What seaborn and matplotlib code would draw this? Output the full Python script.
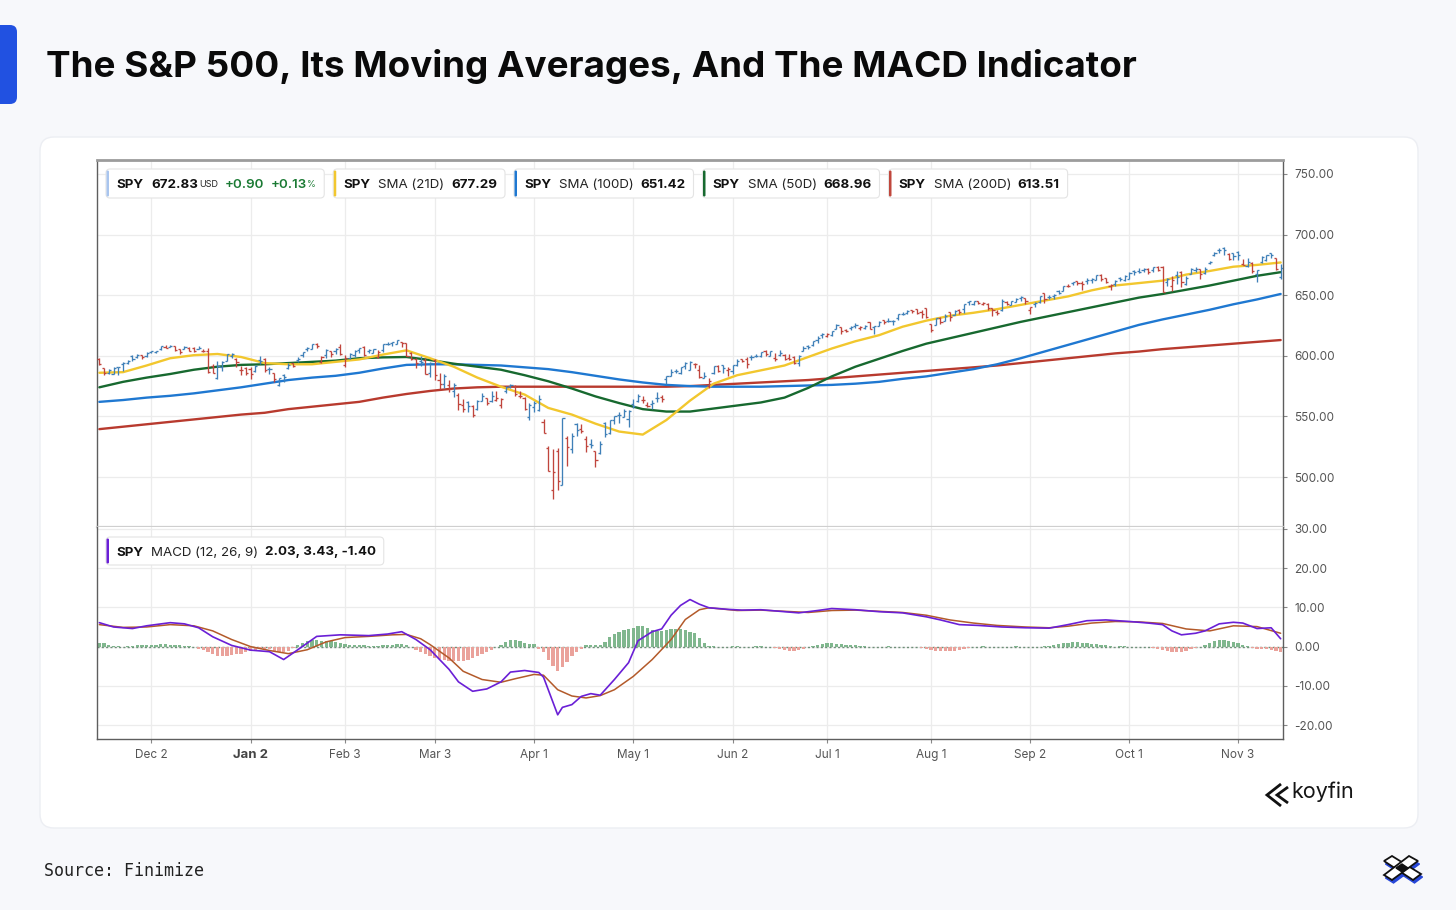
import matplotlib
matplotlib.use("Agg")
import matplotlib.pyplot as plt
from matplotlib.patches import FancyBboxPatch, Polygon
import seaborn as sns
import numpy as np
import pandas as pd

# ---------------- data ----------------
TITLE = "The S&P 500, Its Moving Averages, And The MACD Indicator"
prev_close = 597.2
opens = [597.3,589.7,586.2,584.7,590.4,593.4,593.7,599.5,598.8,600.5,599.7,
         602.9,603.4,605.6,607.6,607.4,607.7,605.4,605.8,606.6,606.4,606.0,604.2,603.9,591.4,581.8,590.9,596.1,599.5,597.5,587.9,589.9,
         589.4,587.5,596.3,597.4,588.7,585.9,575.8,584.4,590.3,594.2,596.9,600.7,605.9,605.8,609.8,594.8,600.6,603.7,603.9,607.5,
         592.7,597.8,600.6,605.0,606.9,604.0,602.6,599.2,604.5,609.9,610.9,610.1,611.5,610.2,602.0,597.2,595.9,596.8,585.6,
         596.2,579.7,576.7,575.5,570.9,567.6,559.4,562.2,558.5,556.1,562.8,564.8,562.8,563.3,559.3,570.8,575.3,575.2,567.2,565.5,549.8,
         557.5,555.1,545.1,523.7,489.2,521.4,493.4,532.2,523.0,544.1,539.7,531.7,527.6,521.2,520.0,544.5,535.9,547.1,551.4,549.6,547.6,
         560.4,563.0,563.4,559.0,560.6,565.0,566.3,581.0,583.3,587.8,585.6,591.3,588.1,593.1,588.4,582.0,575.0,586.1,591.3,592.3,588.6,
         587.8,592.3,597.0,597.6,598.7,600.2,600.2,604.2,600.0,598.5,600.9,600.4,598.2,599.0,594.3,604.3,607.9,608.6,612.9,617.4,
         616.4,617.2,622.5,623.4,621.4,622.8,624.2,622.7,623.2,627.5,623.7,624.4,629.3,628.8,629.1,631.6,634.6,635.1,637.5,638.4,636.5,639.5,
         626.3,625.7,631.3,629.1,636.0,634.0,637.5,638.3,644.7,642.8,645.5,642.9,643.1,639.4,636.3,637.8,644.8,642.1,644.6,647.3,647.5,
         637.5,642.7,644.3,651.5,648.6,649.1,653.6,653.6,657.6,659.9,662.1,660.0,661.6,662.3,662.9,666.7,664.5,657.8,659.5,664.4,662.9,
         663.2,670.3,669.9,671.1,671.9,670.4,673.5,672.9,660.7,657.2,666.8,668.9,659.5,667.3,670.6,672.0,668.1,676.5,682.9,687.1,688.7,683.9,685.0,
         686.0,676.1,674.4,676.5,667.9,677.8,679.0,684.8,680.5,665.4]
highs = [597.8,590.2,589.5,591.0,590.8,595.1,596.2,600.9,601.3,600.9,603.3,
         604.3,604.2,607.9,608.5,609.1,607.9,605.9,608.4,607.2,607.2,607.8,605.2,606.4,593.0,595.8,595.3,601.3,602.5,597.8,591.7,590.6,
         591.1,592.6,599.7,597.8,590.6,585.9,581.8,585.0,593.9,594.3,599.4,603.1,607.4,610.0,610.8,599.7,605.4,604.1,606.5,610.0,
         600.3,602.3,604.4,606.4,608.1,605.5,605.9,604.6,609.9,611.0,611.5,613.2,611.7,610.3,603.0,597.9,599.6,598.0,594.7,
         597.3,585.4,584.9,580.2,577.4,569.5,564.0,563.1,559.1,563.8,569.7,565.0,570.9,570.6,564.9,575.2,576.4,576.3,570.9,566.3,560.7,
         562.9,567.4,548.0,525.9,523.2,524.0,548.6,533.5,536.4,544.3,543.4,533.8,531.2,521.4,529.3,545.4,547.4,550.7,553.3,555.8,555.5,
         564.2,568.1,566.6,562.2,563.6,570.1,567.6,583.0,589.1,589.0,591.0,594.5,595.5,594.0,592.6,586.6,581.8,591.3,592.8,592.6,591.0,
         592.8,597.1,597.6,599.0,600.8,601.3,603.4,605.1,604.0,601.9,604.5,601.8,601.5,599.6,600.4,607.9,608.6,612.3,616.4,619.2,
         618.8,620.5,626.3,624.0,622.1,624.7,626.9,624.9,625.2,627.9,624.7,628.4,629.5,631.5,629.2,634.2,636.0,637.6,638.0,638.7,637.7,639.8,
         626.3,631.3,631.8,634.2,636.2,637.7,638.9,642.9,645.3,645.2,645.6,644.0,643.8,639.7,637.6,646.5,645.5,645.3,647.4,649.5,647.8,
         640.5,644.2,649.2,652.2,649.8,650.9,654.6,658.0,659.1,661.0,662.1,661.8,664.3,664.6,667.0,667.3,664.6,659.5,662.4,665.3,666.7,
         669.4,670.5,672.7,672.5,672.3,673.2,673.9,673.9,664.6,665.8,670.2,669.9,665.8,672.2,672.9,672.0,673.1,678.0,685.5,688.9,689.7,685.1,685.1,
         686.1,679.9,680.9,677.4,671.1,682.2,683.5,685.0,680.9,675.7]
lows = [592.6,583.9,585.3,584.6,583.9,587.5,593.1,595.5,598.1,597.4,599.4,
        602.0,602.3,604.8,606.3,607.0,604.1,601.2,605.5,604.3,602.8,605.2,602.9,585.9,585.9,580.9,587.7,595.5,598.1,590.8,584.4,584.4,
        580.5,586.4,593.6,586.8,585.2,578.6,575.4,578.4,589.2,590.9,595.2,598.7,604.3,605.5,606.8,594.1,597.8,599.2,601.6,600.9,
        590.5,597.3,599.2,602.6,600.1,602.7,602.4,598.5,603.2,609.1,608.4,609.6,607.0,599.5,596.5,589.6,591.9,584.7,582.4,
        579.9,572.3,573.1,570.1,565.6,555.6,553.6,553.4,549.7,555.0,562.4,559.1,561.6,562.6,557.2,569.7,573.7,567.2,565.4,555.1,546.9,
        553.7,554.8,536.7,505.1,481.8,489.0,493.0,509.0,520.1,533.7,536.5,520.3,523.9,508.5,519.0,533.0,535.6,543.4,544.6,549.4,541.5,
        557.0,561.6,561.3,557.4,556.0,561.6,561.8,577.0,583.0,585.5,585.1,589.3,588.0,589.7,581.8,581.4,573.8,584.8,586.7,585.4,583.2,
        585.1,591.9,595.0,590.0,596.8,598.9,599.2,599.7,599.9,595.5,600.2,596.3,596.5,593.2,591.9,604.0,605.5,608.3,610.8,615.0,
        615.4,616.6,622.4,617.9,619.5,620.9,623.0,621.5,621.8,622.0,618.0,624.2,626.5,628.3,625.6,629.7,633.7,634.8,635.5,634.3,631.5,630.8,
        619.3,625.1,626.0,628.7,628.9,633.6,634.5,635.6,641.9,642.0,642.8,642.2,638.2,632.9,633.7,637.3,642.3,641.7,644.4,645.3,643.1,
        634.9,640.6,643.5,643.3,647.2,647.2,650.6,653.5,656.9,658.5,658.8,654.7,659.6,660.4,662.6,661.9,659.7,654.4,657.9,661.9,661.6,
        663.1,666.8,668.2,669.1,667.6,669.4,669.8,652.8,657.8,653.2,658.9,657.1,658.1,667.3,669.0,663.6,667.2,675.5,682.1,684.8,682.9,679.2,679.2,
        679.1,674.6,673.2,668.4,661.2,676.7,678.5,680.9,670.5,663.3]
closes = [593.4,585.8,588.2,590.3,590.5,593.7,595.5,597.5,600.6,598.8,602.6,
          603.6,603.9,607.7,606.7,607.8,604.7,602.8,607.5,604.3,604.2,606.8,604.3,586.3,586.1,591.2,594.7,601.3,601.3,595.0,588.2,586.1,
          584.6,591.9,595.4,588.6,589.5,580.5,581.4,582.2,592.8,591.6,597.6,603.1,606.4,609.8,608.0,599.4,605.0,601.8,605.8,601.8,
          597.8,601.8,604.2,606.3,600.8,604.9,605.3,603.4,609.7,609.7,611.5,612.9,610.4,600.0,597.2,594.2,594.5,585.0,594.2,
          583.8,576.9,583.1,572.7,575.9,560.6,555.9,558.9,551.4,562.8,567.2,561.0,567.1,565.5,564.0,574.1,575.5,568.6,567.1,555.7,559.4,
          561.0,564.5,536.7,505.3,504.4,496.5,548.6,524.6,533.9,539.1,537.6,525.7,526.4,513.9,527.3,535.4,546.7,550.6,550.9,554.3,554.5,
          558.5,566.8,563.5,558.8,561.2,565.1,564.3,583.0,586.8,587.6,590.5,594.2,594.9,592.9,582.9,583.1,579.1,591.2,587.2,590.1,589.4,
          592.7,596.1,595.9,593.0,599.1,599.7,603.1,601.4,603.8,597.0,602.7,597.5,597.4,594.3,600.2,606.8,607.1,611.9,614.9,617.9,
          617.7,620.5,625.3,620.7,620.3,624.1,625.8,623.6,624.8,622.1,624.2,628.0,627.6,628.8,628.9,634.2,634.4,637.1,636.9,635.3,634.5,632.1,
          621.7,631.2,628.0,632.8,632.3,637.2,635.9,642.7,644.9,645.0,643.4,643.3,639.8,638.1,635.6,645.3,642.5,645.2,646.6,648.9,645.1,
          640.3,643.7,649.1,647.2,648.8,650.3,652.2,657.6,657.4,660.9,660.0,659.2,662.3,663.7,666.8,663.2,661.1,658.1,661.8,663.7,666.2,
          668.5,669.2,669.2,671.6,669.1,673.1,671.2,653.0,663.0,662.2,665.2,660.6,664.4,671.3,671.3,667.8,671.8,677.3,685.2,687.1,687.4,679.8,682.1,
          683.3,675.2,677.6,670.3,671.0,681.4,683.0,683.4,672.0,672.8]

sma_idx = list(range(0, 251, 5))
sma21 = [586, 586.5, 592, 598, 600.5, 601.5, 599, 594, 593, 593, 595, 597, 601, 604.5, 598, 591, 582,
         574.5, 568, 557, 551.5, 544, 537.5, 535, 547, 563, 577, 584, 588, 592, 599, 606, 612, 617, 624,
         629, 633, 635.5, 638.5, 642, 645.5, 649, 654, 658, 660, 662, 667, 670, 673.5, 675, 677]
sma50 = [574, 578.5, 582, 585, 588.5, 591, 592.5, 593, 594, 595, 596, 598, 598.7, 599, 596.5, 593.5,
         591, 588.5, 584, 579, 573, 566.5, 561, 556, 554, 554, 556.5, 559, 561.5, 565.5, 573.5, 583, 591,
         597.5, 604, 610, 614.5, 619, 623.5, 628, 632, 636, 640, 644, 648, 651, 654.5, 658, 662, 666, 669]
sma100 = [562, 563.5, 565.5, 567, 569, 571.5, 574, 577, 580, 582, 583.5, 586, 589.5, 592.5, 593, 593,
          592.5, 592, 590.5, 589, 586.5, 583.5, 580.5, 578, 576, 575, 574.5, 574.5, 574.5, 575, 575.5, 576,
          577, 578.5, 581, 583, 586, 589, 593, 598, 603.5, 609, 614.5, 620, 625.5, 630, 634, 638, 642.5, 646.5, 651]
sma200 = [539.5, 541.5, 543.5, 545.5, 547.5, 549.5, 551.5, 553, 556, 558, 560, 562, 565.5, 568.5, 571,
          573, 574, 574.5, 574.5, 574.5, 574.5, 574.5, 574.5, 574.5, 574.5, 575, 576, 577, 578, 579, 580,
          581.5, 583, 584.5, 586, 587.5, 589, 590.5, 592, 594, 596, 598, 600, 602, 603.5, 605.5, 607, 608.5,
          610, 611.5, 613]

macd_idx = [0,3,7,10,15,18,21,24,28,32,36,39,42,46,51,57,61,64,67,70,74,76,79,82,85,87,90,93,94,97,
            98,100,102,104,106,109,112,114,117,119,121,123,125,127,129,133,136,140,145,148,152,155,160,
            165,170,175,178,182,186,191,196,201,205,209,213,218,222,225,227,229,232,234,237,240,242,245,248,250]
macd_vals = [6.1,5.0,4.6,5.3,6.1,5.8,4.8,2.5,0.3,-0.9,-1.3,-3.3,-0.8,2.6,3.0,2.8,3.2,3.8,1.8,-0.8,
             -5.8,-9.0,-11.4,-10.8,-9.0,-6.5,-6.1,-6.6,-7.8,-17.4,-15.5,-14.8,-12.7,-12.0,-12.4,-8.4,-4.1,
             1.5,3.8,4.5,8.0,10.5,12.0,10.8,9.9,9.5,9.3,9.4,8.9,8.6,9.2,9.7,9.4,8.9,8.6,7.6,6.8,5.6,5.4,
             5.0,4.8,4.7,5.6,6.6,6.8,6.4,6.0,5.6,4.0,3.0,3.4,4.0,5.8,6.2,6.0,4.6,4.8,2.0]
sig_idx = [0,5,10,15,20,24,28,32,36,40,44,48,52,57,62,65,68,70,74,77,81,85,88,92,94,97,100,103,106,
           109,113,117,121,124,127,129,135,140,145,150,155,160,165,170,175,180,185,190,196,201,205,210,
           215,220,225,230,235,240,245,250]
sig_vals = [5.6,4.9,5.0,5.6,5.3,4.0,1.8,0.0,-1.0,-1.8,-0.8,1.2,2.3,2.6,3.0,3.1,2.0,0.5,-2.9,-6.3,
            -8.4,-9.1,-8.2,-7.1,-7.3,-11.0,-12.6,-13.1,-12.5,-11.0,-7.6,-3.3,1.8,6.9,9.4,9.9,9.2,9.3,
            9.0,8.7,9.2,9.3,9.0,8.7,8.0,6.8,6.0,5.4,5.0,4.8,5.2,6.0,6.4,6.3,5.9,4.5,4.0,5.3,5.1,3.4]
hist = [1.0,0.8,0.5,0.2,0.1,0.0,0.1,0.2,0.3,0.4,
        0.4,0.5,0.5,0.6,0.6,0.5,0.4,0.3,0.2,0.1,
        -0.1,-0.5,-0.8,-1.5,-2.0,-2.3,-2.5,-2.4,-2.2,-2.0,
        -1.8,-1.5,-1.2,-0.9,-0.6,-0.5,-0.6,-1.0,-1.3,-1.5,
        -1.0,-0.3,0.3,0.8,1.3,1.6,1.8,1.5,1.5,1.3,
        1.1,0.9,0.6,0.5,0.4,0.4,0.3,0.2,0.2,0.2,
        0.3,0.4,0.5,0.6,0.6,0.3,-0.2,-0.8,-1.3,-1.8,
        -2.4,-2.8,-3.2,-3.5,-3.7,-3.8,-3.7,-3.6,-3.3,-3.0,
        -2.5,-2.0,-1.5,-0.8,-0.2,0.5,1.2,1.8,1.7,1.5,
        1.0,0.7,0.6,-0.5,-1.5,-3.5,-5.0,-6.3,-5.2,-4.0,
        -2.5,-1.3,-0.6,0.4,0.5,0.3,0.3,1.2,2.5,3.2,
        3.8,4.2,4.5,4.8,5.2,5.3,4.8,4.2,3.9,4.0,
        4.2,4.4,4.6,4.5,4.3,3.8,3.4,2.1,0.8,0.2,
        0.1,0.0,-0.1,0.0,0.1,0.1,0.0,-0.1,0.0,0.1,
        0.1,0.0,-0.1,-0.3,-0.5,-0.8,-1.0,-1.0,-0.8,-0.5,
        -0.2,0.2,0.5,0.7,0.8,0.8,0.7,0.6,0.5,0.4,
        0.3,0.2,0.1,0.0,-0.1,-0.1,0.0,0.1,0.0,-0.1,
        -0.1,0.0,-0.1,-0.2,-0.3,-0.6,-0.9,-1.1,-1.2,-1.2,
        -1.1,-1.0,-0.8,-0.5,-0.3,-0.1,0.0,0.1,0.0,-0.1,
        -0.2,-0.2,-0.1,0.0,0.1,0.0,-0.1,-0.2,-0.1,0.0,
        0.1,0.2,0.4,0.6,0.8,1.0,1.1,1.1,1.0,0.9,
        0.7,0.6,0.4,0.3,0.1,0.0,0.1,0.1,0.0,-0.1,
        -0.1,-0.1,-0.2,-0.3,-0.5,-0.9,-1.2,-1.4,-1.4,-1.3,
        -1.0,-0.6,-0.3,0.0,0.3,0.8,1.3,1.6,1.6,1.4,
        1.1,0.8,0.4,0.1,-0.3,-0.6,-0.5,-0.6,-0.9,-1.2,
        -1.4]

xtick_idx = [11, 32, 52, 71, 92, 113, 134, 154, 176, 197, 218, 241]
xtick_lbl = ["Dec 2", "Jan 2", "Feb 3", "Mar 3", "Apr 1", "May 1", "Jun 2", "Jul 1",
             "Aug 1", "Sep 2", "Oct 1", "Nov 3"]
price_ticks = [500, 550, 600, 650, 700, 750]
macd_ticks = [-20, -10, 0, 10, 20, 30]

legend_price = [("#a9c5ee", [("SPY", "b"), ("672.83", "b"), ("USD", "s"), ("+0.90", "g"), ("+0.13", "g"), ("%", "gs")]),
                ("#f2c72e", [("SPY", "b"), ("SMA (21D)", "r"), ("677.29", "b")]),
                ("#1f78d1", [("SPY", "b"), ("SMA (100D)", "r"), ("651.42", "b")]),
                ("#17692f", [("SPY", "b"), ("SMA (50D)", "r"), ("668.96", "b")]),
                ("#c0473c", [("SPY", "b"), ("SMA (200D)", "r"), ("613.51", "b")])]
legend_macd = ("#6a1fd6", [("SPY", "b"), ("MACD (12, 26, 9)", "r"), ("2.03, 3.43, -1.40", "b")])

# ---------------- style ----------------
C_UP, C_DN = "#3f80b8", "#c0453d"
C21, C50, C100, C200 = "#f2c72e", "#17692f", "#1f78d1", "#b83a2e"
C_MACD, C_SIG = "#6a1fd6", "#b35a2a"
C_HG, C_HR = "#80b78e", "#eaa29b"
BG = "#f7f8fb"

sns.set_theme(style="white")
plt.rcParams['font.family'] = ['Inter', 'DejaVu Sans']
plt.rcParams['axes.unicode_minus'] = False

W, H = 1456, 910
fig = plt.figure(figsize=(W / 100, H / 100), dpi=100)
fig.patch.set_facecolor(BG)

bg = fig.add_axes([0, 0, 1, 1], zorder=0)
bg.set_xlim(0, W); bg.set_ylim(H, 0); bg.axis('off')
bg.add_patch(FancyBboxPatch((40, 137), 1378, 691, boxstyle="round,pad=0,rounding_size=14",
                            fc='white', ec='#eceef3', lw=1))
bg.add_patch(FancyBboxPatch((-12, 25), 29, 79, boxstyle="round,pad=0,rounding_size=7",
                            fc='#2151e1', ec='none'))
bg.text(46, 67, TITLE, fontsize=26.5, fontweight='bold', va='center', ha='left', color='#0a0a0a')
bg.text(44, 871, "Source: Finimize", family='DejaVu Sans Mono', fontsize=12, va='center',
        ha='left', color='#222222')

# koyfin logo
for pts in ([(1281, 784), (1267, 795), (1281, 806)], [(1288, 787), (1277, 795), (1288, 803)]):
    xs, ys = zip(*pts)
    bg.plot(xs, ys, color='#111111', lw=2.0, solid_capstyle='butt', solid_joinstyle='miter')
bg.text(1291, 792, "koyfin", fontsize=15.5, va='center', ha='left', color='#151515')

# finimize mark
pieceA = [(1384, 861), (1392, 856), (1421, 874), (1413, 880)]
pieceB = [(1409, 856), (1418, 861), (1392, 880), (1384, 875)]
for pc in (pieceA, pieceB):
    bg.add_patch(Polygon([(px + 1.5, py + 3) for px, py in pc], closed=True, fc='#2747d8', ec='#2747d8', lw=1))
for pc in (pieceA, pieceB):
    bg.add_patch(Polygon(pc, closed=True, fc='white', ec='#111111', lw=1.3))
bg.add_patch(Polygon([(1396, 868), (1402, 864), (1408, 868), (1402, 872)], closed=True, fc='#111111', ec='#111111'))

# ---------------- axes ----------------
L, Wd = 97 / W, 1186 / W
ax1 = fig.add_axes([L, 1 - 527 / H, Wd, 367 / H], zorder=2)
ax2 = fig.add_axes([L, 1 - 739 / H, Wd, 212 / H], zorder=2)
for ax in (ax1, ax2):
    ax.set_facecolor('white')

n = len(closes)
xi = np.arange(n)
c_arr = np.array(closes)
prev = np.concatenate([[prev_close], c_arr[:-1]])
cols = np.where(c_arr >= prev, C_UP, C_DN)

df_sma = pd.DataFrame({"idx": sma_idx, "s21": sma21, "s50": sma50, "s100": sma100, "s200": sma200})
for col, colr in (("s200", C200), ("s100", C100), ("s50", C50), ("s21", C21)):
    sns.lineplot(data=df_sma, x="idx", y=col, ax=ax1, color=colr, lw=1.7, zorder=3)

ax1.vlines(xi, lows[:n], highs[:n], colors=cols, lw=0.95, zorder=4)
ax1.hlines(opens[:n], xi - 0.45, xi, colors=cols, lw=0.95, zorder=4)
ax1.hlines(closes, xi, xi + 0.45, colors=cols, lw=0.95, zorder=4)

hx = np.arange(len(hist))
ax2.bar(hx, hist, width=0.7, color=[C_HG if v >= 0 else C_HR for v in hist], lw=0, zorder=2)
ax2.axhline(0, color='#6f8f79', lw=1.0, ls=(0, (1.5, 1.6)), zorder=1.5)
df_m = pd.DataFrame({"idx": macd_idx, "v": macd_vals})
df_s = pd.DataFrame({"idx": sig_idx, "v": sig_vals})
sns.lineplot(data=df_s, x="idx", y="v", ax=ax2, color=C_SIG, lw=1.1, zorder=3)
sns.lineplot(data=df_m, x="idx", y="v", ax=ax2, color=C_MACD, lw=1.2, zorder=4)

ax1.set_ylim(458.75, 761.55)
ax2.set_ylim(-23.57, 30.5)
for ax in (ax1, ax2):
    ax.set_xlim(-0.5, 250.5)
    ax.set_xlabel(""); ax.set_ylabel("")
    ax.set_xticks(xtick_idx)
    ax.yaxis.tick_right()
    ax.grid(True, color='#ececec', lw=0.9, zorder=0)
    ax.set_axisbelow(True)
    ax.tick_params(axis='y', which='both', right=True, left=False, length=3, width=0.8,
                   color='#888888', labelcolor='#555555', labelsize=8.5, pad=5, direction='out')
    for s in ax.spines.values():
        s.set_color('#5e5e5e'); s.set_linewidth(1.0)

ax1.set_yticks(price_ticks)
ax1.set_yticklabels([f"{v:.2f}" for v in price_ticks])
ax1.tick_params(axis='x', length=0, labelbottom=False)
ax1.spines['top'].set_color('#9c9c9c'); ax1.spines['top'].set_linewidth(2.0)
ax1.spines['bottom'].set_color('#cfcfcf'); ax1.spines['bottom'].set_linewidth(1.6)

ax2.set_yticks(macd_ticks)
ax2.set_yticklabels([f"{v:.2f}" for v in macd_ticks])
ax2.spines['top'].set_visible(False)
ax2.set_xticklabels(xtick_lbl)
ax2.tick_params(axis='x', length=3, width=0.8, color='#888888', labelcolor='#555555',
                labelsize=8.5, pad=4, direction='out', bottom=True)
for t in ax2.get_xticklabels():
    if t.get_text() == "Jan 2":
        t.set_fontweight('bold'); t.set_fontsize(9.5); t.set_color('#444444')

# ---------------- legends (overlay, pixel coords) ----------------
ov = fig.add_axes([0, 0, 1, 1], zorder=10)
ov.set_xlim(0, W); ov.set_ylim(H, 0); ov.axis('off'); ov.patch.set_alpha(0)
renderer = fig.canvas.get_renderer()

STY = {"b": dict(fontsize=9.6, fontweight='bold', color='#111111'),
       "r": dict(fontsize=9.6, color='#222222'),
       "s": dict(fontsize=6.5, color='#222222'),
       "g": dict(fontsize=9.6, fontweight='semibold', color='#1b7a34'),
       "gs": dict(fontsize=6.5, color='#1b7a34')}


def draw_box(x0, yc, color, parts, hgt=29):
    x = x0 + 10
    for i, (s, k) in enumerate(parts):
        if i > 0:
            if k == "gs":
                x += 0.5
            elif k == "s":
                x += 1.5
            elif i == 1:
                x += 8
            else:
                x += 6.5
        t = ov.text(x, yc, s, va='center_baseline', ha='left', **STY[k], zorder=12)
        bb = t.get_window_extent(renderer=renderer)
        x += bb.width
    x1 = x + 8
    ov.add_patch(FancyBboxPatch((x0, yc - hgt / 2), x1 - x0, hgt,
                                boxstyle="round,pad=0,rounding_size=4", fc='white',
                                ec='#e4e4e4', lw=0.8, zorder=11))
    ov.add_patch(FancyBboxPatch((x0 + 0.5, yc - hgt / 2 + 1.5), 2.5, hgt - 3,
                                boxstyle="round,pad=0,rounding_size=1.2", fc=color, ec='none', zorder=12))
    return x1


xb = 106
for colr, parts in legend_price:
    xb = draw_box(xb, 183.5, colr, parts) + 9
draw_box(106, 551, legend_macd[0], legend_macd[1], hgt=28)

fig.savefig("out.png", dpi=100, facecolor=fig.get_facecolor())
